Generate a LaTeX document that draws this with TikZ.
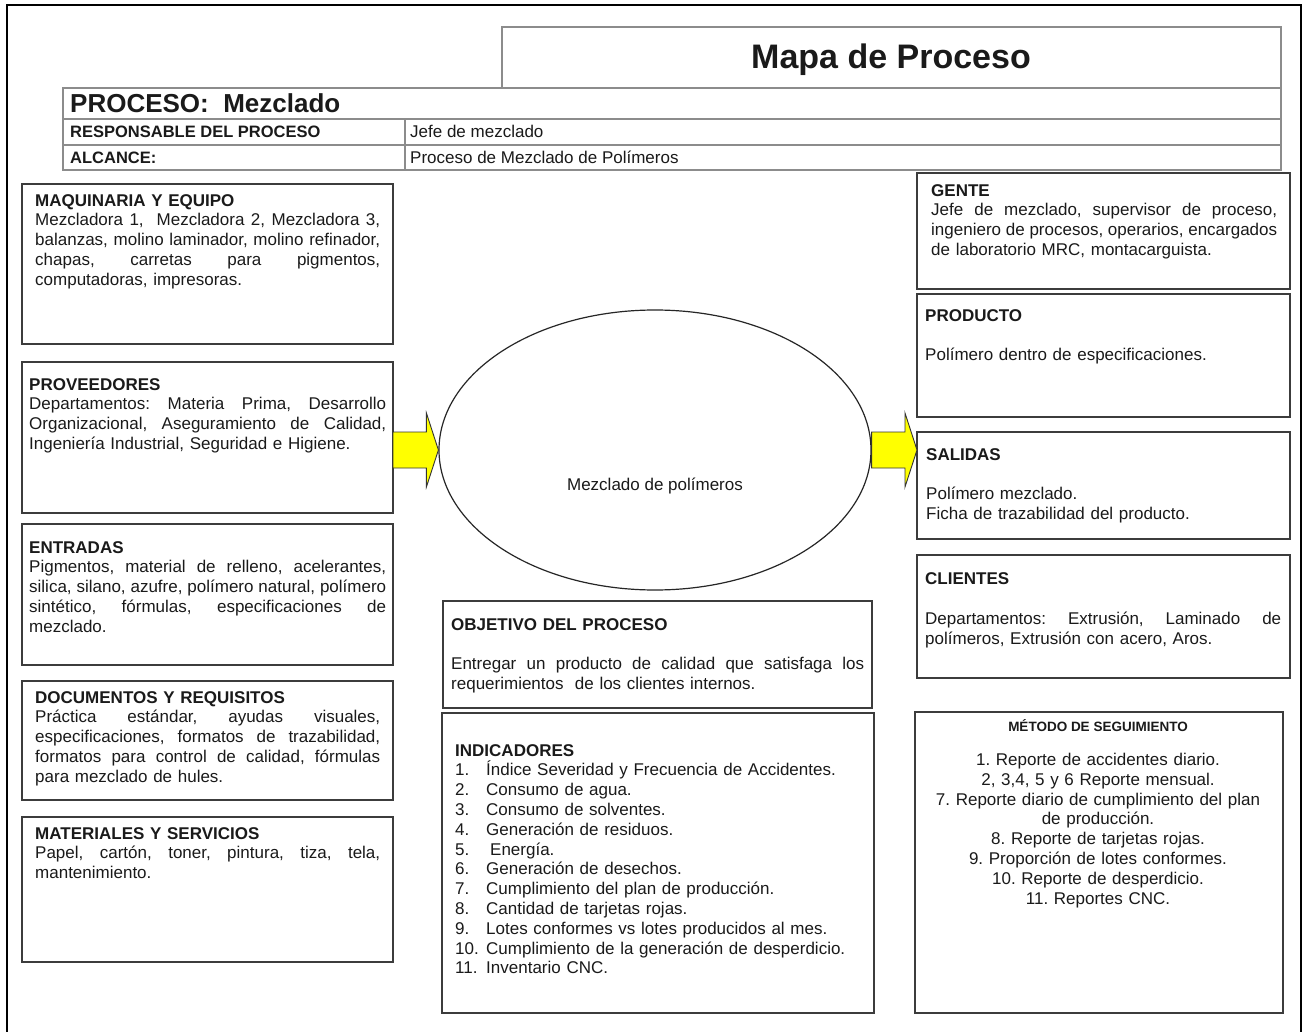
\documentclass[tikz,border=0pt]{standalone}
\usepackage{fontspec}
\setmainfont{Liberation Sans}
\usetikzlibrary{calc,shapes.geometric}

\definecolor{ink}{HTML}{1A1A1A}
\definecolor{panelline}{HTML}{3C3C3C}
\definecolor{gridline}{HTML}{8C8C8C}
\definecolor{arrowfill}{HTML}{FFFF00}

% one justified line, spread over the full text width
\newcommand{\jline}[1]{\leavevmode\hbox to \hsize{\frenchspacing\spaceskip=0.278em plus 1fil\relax #1}}
% number column of the indicator list
\newcommand{\idxnum}[1]{\makebox[31pt][l]{#1}}

\begin{document}
\frenchspacing
\begin{tikzpicture}[x=1pt,y=-1pt,
  frame/.style={draw=black, line width=2.2pt},
  grid/.style={draw=gridline, line width=1.1pt},
  panel/.style={draw=panelline, line width=1.6pt, anchor=north west, inner sep=0pt, outer sep=0pt},
  textblock/.style={inner sep=0pt, text=ink, font=\fontsize{17}{19.8}\selectfont\frenchspacing},
  body/.style={textblock, anchor=north west,
    execute at begin node={\setlength{\parindent}{0pt}\raggedright}},
  centredbody/.style={textblock, anchor=north,
    execute at begin node={\setlength{\parindent}{0pt}\centering}},
  linetext/.style={anchor=base west, inner sep=0pt, text=ink},
  blockarrow/.style={fill=arrowfill, draw=black!80, line width=0.9pt, line join=miter},
]
\useasboundingbox (0,0) rectangle (1306,1032);
\fill[white] (0,0) rectangle (1306,1032);

% page frame
\draw[frame] (7,1034) -- (7,5) -- (1301,5) -- (1301,1034);

% header table
\draw[grid] (502,88) -- (502,27) -- (1281,27) -- (1281,88);
\draw[grid] (63,88) rectangle (1281,170);
\draw[grid] (63,119) -- (1281,119);
\draw[grid] (63,145) -- (1281,145);
\draw[grid] (405,119) -- (405,170);

\node[linetext, anchor=base, font=\bfseries\fontsize{34}{40}\selectfont] (title) at (891,69) {Mapa de Proceso};
\node[linetext, font=\bfseries\fontsize{26}{30}\selectfont] (proc) at (70,113) {PROCESO:~~Mezclado};
\node[linetext, font=\bfseries\fontsize{16.5}{20}\selectfont] (resp) at (70,138) {RESPONSABLE DEL PROCESO};
\node[linetext, font=\fontsize{17}{20}\selectfont] (respv) at (410,138) {Jefe de mezclado};
\node[linetext, font=\bfseries\fontsize{16.5}{20}\selectfont] (alc) at (70,164) {ALCANCE:};
\node[linetext, font=\fontsize{17}{20}\selectfont] (alcv) at (410,164) {Proceso de Mezclado de Polímeros};

% left column panels
\node[panel, minimum width=371pt, minimum height=160pt] (maq)  at (22,184) {};
\node[panel, minimum width=371pt, minimum height=151pt] (prov) at (22,362) {};
\node[panel, minimum width=371pt, minimum height=141pt] (ent)  at (22,524) {};
\node[panel, minimum width=371pt, minimum height=119pt] (doc)  at (22,681) {};
\node[panel, minimum width=371pt, minimum height=145pt] (mat)  at (22,817) {};

\node[body, text width=345pt] (maqT) at (35,194) {{\bfseries MAQUINARIA Y EQUIPO}\\
\jline{Mezcladora 1,\ \ Mezcladora 2, Mezcladora 3,}\\
\jline{balanzas, molino laminador, molino refinador,}\\
\jline{chapas, carretas para pigmentos,}\\
computadoras, impresoras.};

\node[body, text width=357pt] (provT) at (29,378) {{\bfseries PROVEEDORES}\\
\jline{Departamentos: Materia Prima, Desarrollo}\\
\jline{Organizacional, Aseguramiento de Calidad,}\\
Ingeniería Industrial, Seguridad e Higiene.};

\node[body, text width=357pt] (entT) at (29,541) {{\bfseries ENTRADAS}\\
\jline{Pigmentos, material de relleno, acelerantes,}\\
\jline{silica, silano, azufre, polímero natural, polímero}\\
\jline{sintético, fórmulas, especificaciones de}\\
mezclado.};

\node[body, text width=345pt] (docT) at (35,691) {{\bfseries DOCUMENTOS Y REQUISITOS}\\
\jline{Práctica estándar, ayudas visuales,}\\
\jline{especificaciones, formatos de trazabilidad,}\\
\jline{formatos para control de calidad, fórmulas}\\
para mezclado de hules.};

\node[body, text width=345pt] (matT) at (35,827) {{\bfseries MATERIALES Y SERVICIOS}\\
\jline{Papel, cartón, toner, pintura, tiza, tela,}\\
mantenimiento.};

% centre: process and its purpose
\node[draw=black!85, line width=1.2pt, ellipse, minimum width=432pt, minimum height=280pt, inner sep=0pt] (ell) at (655,450) {};
\node[linetext, anchor=base, font=\fontsize{17}{20}\selectfont] (ellT) at (655,490) {Mezclado de polímeros};

\node[panel, minimum width=429pt, minimum height=107pt] (obj) at (443,601) {};
\node[body, text width=413pt] (objT) at (451,618) {{\bfseries OBJETIVO DEL PROCESO}\\[20pt]
\jline{Entregar un producto de calidad que satisfaga los}\\
requerimientos\ \ de los clientes internos.};

\node[panel, minimum width=432pt, minimum height=300pt] (ind) at (442,713) {};
\node[body, text width=410pt] (indT) at (455,744) {{\bfseries INDICADORES}\\
\idxnum{1.}Índice Severidad y Frecuencia de Accidentes.\\
\idxnum{2.}Consumo de agua.\\
\idxnum{3.}Consumo de solventes.\\
\idxnum{4.}Generación de residuos.\\
\idxnum{5.}\hspace{4pt}Energía.\\
\idxnum{6.}Generación de desechos.\\
\idxnum{7.}Cumplimiento del plan de producción.\\
\idxnum{8.}Cantidad de tarjetas rojas.\\
\idxnum{9.}Lotes conformes vs lotes producidos al mes.\\
\idxnum{10.}Cumplimiento de la generación de desperdicio.\\
\idxnum{11.}Inventario CNC.};

% right column panels
\node[panel, minimum width=373pt, minimum height=116pt] (gente) at (917,173) {};
\node[panel, minimum width=373pt, minimum height=123pt] (prod)  at (917,294) {};
\node[panel, minimum width=373pt, minimum height=107pt] (sal)   at (917,432) {};
\node[panel, minimum width=373pt, minimum height=123pt] (cli)   at (917,555) {};
\node[panel, minimum width=368pt, minimum height=301pt] (met)   at (915,712) {};

\node[body, text width=346pt] (genteT) at (931,184) {{\bfseries GENTE}\\
\jline{Jefe de mezclado, supervisor de proceso,}\\
\jline{ingeniero de procesos, operarios, encargados}\\
de laboratorio MRC, montacarguista.};

\node[body, text width=350pt] (prodT) at (925,309) {{\bfseries PRODUCTO}\\[20pt]
Polímero dentro de especificaciones.};

\node[body, text width=350pt] (salT) at (926,448) {{\bfseries SALIDAS}\\[20pt]
Polímero mezclado.\\
Ficha de trazabilidad del producto.};

\node[body, text width=356pt] (cliT) at (925,572) {{\bfseries CLIENTES}\\[21pt]
\jline{Departamentos: Extrusión, Laminado de}\\
polímeros, Extrusión con acero, Aros.};

\node[linetext, anchor=base, font=\bfseries\fontsize{13.5}{16}\selectfont] (metH) at (1098,731) {MÉTODO DE SEGUIMIENTO};
\node[centredbody, text width=350pt] (metT) at (1098,753) {1. Reporte de accidentes diario.\\
2, 3,4, 5 y 6 Reporte mensual.\\
7. Reporte diario de cumplimiento del plan\\
de producción.\\
8. Reporte de tarjetas rojas.\\
9. Proporción de lotes conformes.\\
10. Reporte de desperdicio.\\
11. Reportes CNC.};

% yellow block arrows: suppliers -> process -> outputs
\coordinate (inTail)  at (prov.east |- ell.west);
\coordinate (inTip)   at (ell.west);
\coordinate (outTail) at (ell.east);
\coordinate (outTip)  at (sal.west |- ell.east);
\foreach \tl/\tp in {inTail/inTip, outTail/outTip}{
  \draw[blockarrow] let \p1=(\tl), \p2=(\tp) in
    (\x1,\y1+18pt) -- (\x2-12pt,\y1+18pt) -- (\x2-12pt,\y1+37pt) -- (\x2,\y2)
    -- (\x2-12pt,\y1-37pt) -- (\x2-12pt,\y1-18pt) -- (\x1,\y1-18pt) -- cycle;
}
\end{tikzpicture}
\end{document}
